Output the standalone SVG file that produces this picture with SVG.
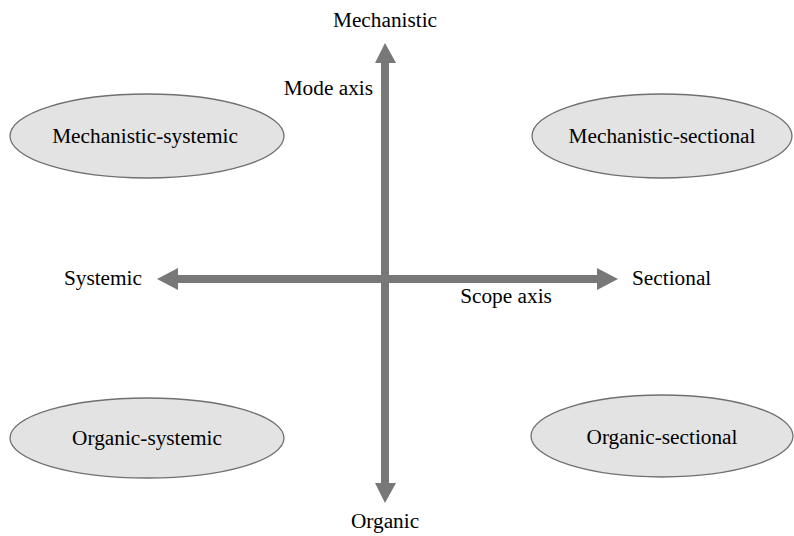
<svg xmlns="http://www.w3.org/2000/svg" width="794" height="536" viewBox="0 0 794 536">
<style>
.node ellipse{fill:#e3e3e3;stroke:#707070;stroke-width:1.3}
.axis{fill:#787878}
</style>
<rect width="794" height="536" fill="#fff"/>
<g id="connectors">
<polygon class="axis" points="381,63 381,483 375,483 385,503 396,483 389,483 389,63 396,63 385,43 375,63"/>
<polygon class="axis" points="178,275 597,275 597,268 618,279 597,290 597,283 178,283 178,290 157,279 178,268"/>
</g>
<g font-family="'Liberation Serif', 'Times New Roman', Times, 'DejaVu Serif', serif" font-size="21.3" fill="#000">
<g id="mechanistic-systemic" class="node"><ellipse cx="147" cy="136" rx="137" ry="42"/><text x="145" y="143" text-anchor="middle">Mechanistic-systemic</text></g>
<g id="mechanistic-sectional" class="node"><ellipse cx="662" cy="136" rx="130" ry="42"/><text x="662" y="143" text-anchor="middle">Mechanistic-sectional</text></g>
<g id="organic-systemic" class="node"><ellipse cx="147" cy="438" rx="137" ry="40"/><text x="147" y="445" text-anchor="middle">Organic-systemic</text></g>
<g id="organic-sectional" class="node"><ellipse cx="662" cy="436" rx="131" ry="41"/><text x="662" y="444" text-anchor="middle">Organic-sectional</text></g>
<g id="labels">
<text x="385" y="27" text-anchor="middle">Mechanistic</text>
<text x="373" y="95" text-anchor="end">Mode axis</text>
<text x="142" y="285" text-anchor="end">Systemic</text>
<text x="632" y="285">Sectional</text>
<text x="506" y="303" text-anchor="middle">Scope axis</text>
<text x="385" y="528" text-anchor="middle">Organic</text>
</g>
</g>
</svg>
